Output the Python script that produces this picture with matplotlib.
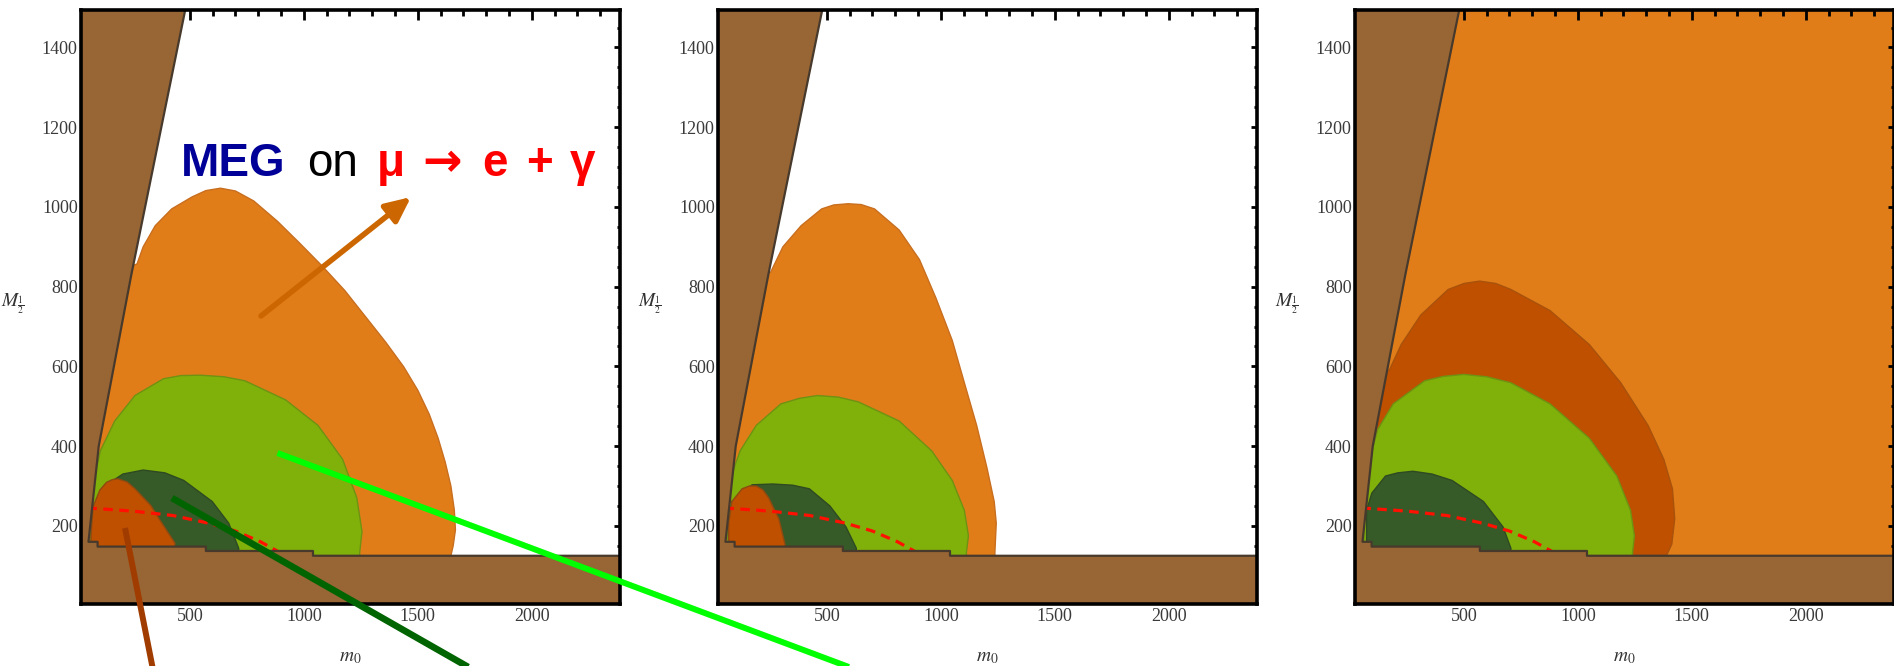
import matplotlib
matplotlib.use("Agg")
import matplotlib.pyplot as plt
from matplotlib.lines import Line2D
from matplotlib.ticker import MultipleLocator

W, H, DPI = 1894, 666, 100

# ---------------- data ----------------
M0_LIM = (20, 2387)
M12_LIM = (4, 1494)

# excluded (brown) region shared by all panels: left wedge + bottom band
wedge_m0 = [55, 100, 243, 380, 478, 490]
wedge_M = [160, 400, 830, 1215, 1490, 1530]
band_m0 = [2500, 1040, 1040, 570, 570, 95, 95, 55]
band_M = [125, 125, 137, 137, 148, 148, 160, 160]

# red dashed curve (same in the three panels)
dash_m0 = [50, 250, 425, 580, 700, 810, 905]
dash_M = [245, 237, 226, 207, 187, 160, 130]

# panel 1
p1_orange_m0 = [0, 268, 295, 348, 420, 509, 570, 634, 700, 780, 884, 980, 1080, 1180, 1270,
                1360, 1438, 1500, 1550, 1589, 1620, 1645, 1660, 1665, 1655, 1645]
p1_orange_M = [800, 857, 900, 953, 995, 1025, 1041, 1047, 1040, 1015, 964, 910, 852, 790, 725,
               660, 599, 540, 480, 420, 360, 300, 240, 190, 150, 125]
p1_green_m0 = [62, 71, 107, 170, 259, 384, 460, 545, 650, 741, 920, 1062, 1170, 1232, 1255, 1245]
p1_green_M = [239, 293, 388, 463, 527, 569, 577, 578, 574, 564, 516, 452, 367, 271, 186, 133]
p1_dkgreen_m0 = [89, 134, 206, 295, 390, 473, 598, 670, 714]
p1_dkgreen_M = [261, 303, 330, 340, 333, 314, 261, 207, 144]
p1_dkorange_m0 = [66, 75, 105, 134, 160, 184, 225, 259, 294, 330, 368, 434]
p1_dkorange_M = [175, 248, 290, 309, 316, 318, 310, 293, 272, 250, 215, 157]

# panel 2
p2_orange_m0 = [0, 253, 307, 387, 477, 530, 593, 650, 709, 817, 906, 978, 1050, 1103, 1157,
                1202, 1234, 1243, 1237]
p2_orange_M = [800, 836, 900, 953, 995, 1005, 1008, 1006, 995, 942, 868, 772, 665, 559, 452,
               346, 261, 207, 133]
p2_green_m0 = [65, 74, 119, 190, 298, 380, 459, 550, 638, 817, 960, 1050, 1103, 1121, 1112]
p2_green_M = [239, 314, 388, 452, 506, 520, 527, 523, 511, 463, 388, 314, 239, 175, 133]
p2_dkgreen_m0 = [83, 172, 262, 350, 423, 513, 584, 629]
p2_dkgreen_M = [261, 303, 305, 302, 293, 250, 197, 144]
p2_dkorange_m0 = [69, 83, 128, 160, 190, 220, 244, 289, 316]
p2_dkorange_M = [207, 261, 293, 300, 300, 290, 271, 218, 154]

# panel 3 (background of allowed region is orange)
p3_dkorange_m0 = [0, 173, 225, 311, 431, 500, 569, 640, 706, 878, 1050, 1188, 1308, 1377,
                  1415, 1425, 1412, 1386]
p3_dkorange_M = [560, 591, 655, 729, 793, 808, 814, 808, 793, 740, 655, 559, 452, 367,
                 293, 218, 154, 122]
p3_green_m0 = [61, 87, 122, 190, 328, 410, 500, 600, 706, 878, 1050, 1171, 1231, 1248, 1240]
p3_green_M = [282, 367, 442, 506, 564, 575, 580, 574, 559, 506, 420, 325, 239, 175, 133]
p3_dkgreen_m0 = [73, 73, 96, 156, 210, 276, 360, 448, 586, 672, 706]
p3_dkgreen_M = [165, 239, 282, 325, 333, 337, 330, 314, 261, 197, 144]

title_pieces = ["MEG", "on", "\u03bc", "\u2192", "e", "+", "\u03b3"]

# ---------------- styles ----------------
C_BROWN = "#986534"
C_ORANGE = "#E17D19"
C_DKORANGE = "#BE5000"
C_GREEN = "#80B00A"
C_DKGREEN = "#375A29"
C_EDGE = "#473A2C"

plt.rcParams["mathtext.fontset"] = "stix"

fig = plt.figure(figsize=(W / DPI, H / DPI), dpi=DPI)

ax_w = 539.5 / W
ax_h = 594 / H
ax_b = (H - 604) / H
lefts = [80.5 / W, 717.5 / W, 1354.5 / W]


def region(ax, xs, ys, color, edge):
    px = [xs[0]] + list(xs) + [xs[-1]]
    py = [-20] + list(ys) + [-20]
    ax.fill(px, py, facecolor=color, edgecolor=edge, lw=1.0, zorder=2,
            joinstyle="round")


def style_axes(ax):
    ax.set_xlim(*M0_LIM)
    ax.set_ylim(*M12_LIM)
    ax.xaxis.set_major_locator(MultipleLocator(500))
    ax.xaxis.set_minor_locator(MultipleLocator(100))
    ax.yaxis.set_major_locator(MultipleLocator(200))
    ax.yaxis.set_minor_locator(MultipleLocator(50))
    ax.tick_params(which="both", direction="in", top=True, right=True,
                   width=2.0, color="black")
    ax.tick_params(axis="x", which="major", length=7.2, pad=3)
    ax.tick_params(axis="x", which="minor", length=4.3)
    ax.tick_params(axis="y", which="major", length=4.3, pad=2)
    ax.tick_params(axis="y", which="minor", length=2.5)
    for lab in ax.get_xticklabels() + ax.get_yticklabels():
        lab.set_fontfamily("Liberation Serif")
        lab.set_fontsize(13)
        lab.set_color("#3a3a3a")
    for s in ax.spines.values():
        s.set_linewidth(2.6)
        s.set_zorder(10)
    ax.set_xlabel(r"$m_0$", fontsize=14, color="#333333")
    ax.xaxis.set_label_coords(0.5, -0.072)
    ax.set_ylabel(r"$M_{\frac{1}{2}}$", fontsize=14, color="#333333",
                  rotation=0, ha="center", va="center")
    ax.yaxis.set_label_coords(-0.125, 0.505)


def excluded(ax):
    bx = [0, 2500] + band_m0 + wedge_m0 + [0]
    by = [-20, -20] + band_M + wedge_M + [1530]
    ax.fill(bx, by, facecolor=C_BROWN, edgecolor="none", zorder=5)
    ax.plot(band_m0 + wedge_m0, band_M + wedge_M, color=C_EDGE, lw=1.6, zorder=6)


def dashed(ax):
    ax.plot(dash_m0, dash_M, color="#FF1000", lw=2.3, dashes=(3, 2), zorder=4)


axes = [fig.add_axes([l, ax_b, ax_w, ax_h]) for l in lefts]
ax1, ax2, ax3 = axes

# panel 1
region(ax1, p1_orange_m0, p1_orange_M, C_ORANGE, "#C86E1E")
region(ax1, p1_green_m0, p1_green_M, C_GREEN, "#6E9212")
region(ax1, p1_dkgreen_m0, p1_dkgreen_M, C_DKGREEN, "#2E4A22")
region(ax1, p1_dkorange_m0, p1_dkorange_M, C_DKORANGE, "#8E4A10")
dashed(ax1)
excluded(ax1)

# panel 2
region(ax2, p2_orange_m0, p2_orange_M, C_ORANGE, "#C86E1E")
region(ax2, p2_green_m0, p2_green_M, C_GREEN, "#6E9212")
region(ax2, p2_dkgreen_m0, p2_dkgreen_M, C_DKGREEN, "#2E4A22")
region(ax2, p2_dkorange_m0, p2_dkorange_M, C_DKORANGE, "#8E4A10")
dashed(ax2)
excluded(ax2)

# panel 3
ax3.set_facecolor(C_ORANGE)
region(ax3, p3_dkorange_m0, p3_dkorange_M, C_DKORANGE, "#A9520C")
region(ax3, p3_green_m0, p3_green_M, C_GREEN, "#6E9212")
region(ax3, p3_dkgreen_m0, p3_dkgreen_M, C_DKGREEN, "#2E4A22")
dashed(ax3)
excluded(ax3)

for ax in axes:
    style_axes(ax)

# ---------------- annotations ----------------
piece_x = [233.5, 332.5, 390.5, 442.5, 495.5, 539.5, 582.5]
piece_col = ["#000099", "black", "#FF0000", "#FF0000", "#FF0000", "#FF0000", "#FF0000"]
piece_wt = ["bold", "normal", "bold", "bold", "bold", "bold", "bold"]
piece_fam = [["Liberation Sans", "DejaVu Sans"]] * 3 + [["DejaVu Sans"]] + \
            [["Liberation Sans", "DejaVu Sans"]] * 3
piece_size = [33, 33, 33, 34, 33, 33, 33]
for txt, x, c, wt, fam, fs in zip(title_pieces, piece_x, piece_col, piece_wt,
                                  piece_fam, piece_size):
    fig.text(x / W, (H - 176) / H, txt, color=c, fontweight=wt, fontsize=fs,
             family=fam, ha="center", va="baseline")

ax1.annotate("", xy=(411, H - 197), xytext=(261, H - 316),
             xycoords="figure pixels", textcoords="figure pixels",
             arrowprops=dict(arrowstyle="-|>,head_length=0.75,head_width=0.35",
                             color="#CC6600", lw=4, mutation_scale=20,
                             shrinkA=0, shrinkB=0))


def fig_line(p0, p1, color, lw):
    fig.add_artist(Line2D([p0[0] / W, p1[0] / W], [1 - p0[1] / H, 1 - p1[1] / H],
                          transform=fig.transFigure, color=color, lw=lw,
                          solid_capstyle="butt", zorder=20))


fig_line((125, 528), (159, 700), "#A03C00", 4.3)
fig_line((172, 498), (526, 700), "#006400", 4.8)
fig_line((277.5, 453), (937, 700), "#00FF00", 4.3)

fig.savefig("out.png", dpi=DPI)
